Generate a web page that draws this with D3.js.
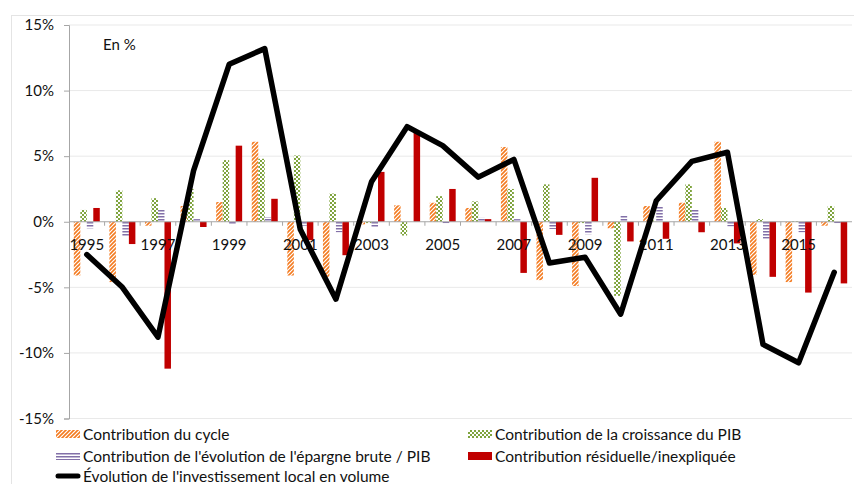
<!DOCTYPE html>
<html><head><meta charset="utf-8">
<script src="https://cdn.jsdelivr.net/npm/d3@7"></script>
<style>
html,body{margin:0;padding:0;background:#fff;}
svg{display:block;font-family:Lato,"Open Sans",sans-serif;}
</style></head>
<body><svg id="c" width="854" height="484"></svg>
<script>
const years = [1995,1996,1997,1998,1999,2000,2001,2002,2003,2004,2005,2006,2007,2008,2009,2010,2011,2012,2013,2014,2015,2016];
const yearLabels = ["1995","1997","1999","2001","2003","2005","2007","2009","2011","2013","2015"];
const cycle    = [-4.1,-4.6,-0.3, 1.2, 1.5, 6.1,-4.1,-4.2,-0.2, 1.25, 1.45, 1.05, 5.7,-4.45,-4.9,-0.5, 1.2, 1.45, 6.1,-4.05,-4.6,-0.3];
const pib      = [ 0.9, 2.4, 1.8, 2.5, 4.7, 4.8, 5.05, 2.15,-0.1,-1.05, 1.95, 1.55, 2.5, 2.85,-0.1,-5.65, 0.1, 2.85, 1.05, 0.2, 0.05, 1.2];
const epargne  = [-0.5,-1.1, 0.9, 0.2,-0.2, 0.35,-0.3,-0.8,-0.4, 0.05,-0.1, 0.3, 0.2,-0.55,-0.95, 0.45, 1.15, 0.9,-0.35,-1.3,-0.8,-0.1];
const residuel = [ 1.05,-1.7,-11.2,-0.4, 5.8, 1.75,-1.4,-2.55, 3.8, 6.8, 2.5, 0.2,-3.9,-1.0, 3.35,-1.5,-1.3,-0.8,-1.65,-4.2,-5.4,-4.7];
const investissement = [-2.5,-5.0,-8.8, 3.9,12.0,13.2,-0.6,-5.9, 3.05, 7.25, 5.8, 3.4, 4.75,-3.15,-2.7,-7.05, 1.6, 4.6, 5.3,-9.35,-10.75,-3.85];
const yTicks = [-15,-10,-5,0,5,10,15];
const seriesNames = ["Contribution du cycle","Contribution de la croissance du PIB","Contribution de l'évolution de l'épargne brute / PIB","Contribution résiduelle/inexpliquée","Évolution de l'investissement local en volume"];

const series = [
  {key:"cycle", values:cycle, fill:"url(#pOrange)"},
  {key:"pib", values:pib, fill:"url(#pGreen)"},
  {key:"epargne", values:epargne, fill:"url(#pPurple)"},
  {key:"residuel", values:residuel, fill:"#C00000"}
];

const svg = d3.select("#c");
const defs = svg.append("defs");
let p = defs.append("pattern").attr("id","pOrange").attr("patternUnits","userSpaceOnUse").attr("width",4).attr("height",4);
p.append("rect").attr("width",4).attr("height",4).attr("fill","#fff");
p.append("path").attr("d","M-1,1 l2,-2 M0,4 l4,-4 M3,5 l2,-2").attr("stroke","#F47B20").attr("stroke-width",1.6);
p = defs.append("pattern").attr("id","pGreen").attr("patternUnits","userSpaceOnUse").attr("width",4).attr("height",4);
p.append("rect").attr("width",4).attr("height",4).attr("fill","#fff");
p.append("rect").attr("x",0).attr("y",0).attr("width",2).attr("height",2).attr("fill","#7FA43E");
p.append("rect").attr("x",2).attr("y",2).attr("width",2).attr("height",2).attr("fill","#7FA43E");
p = defs.append("pattern").attr("id","pPurple").attr("patternUnits","userSpaceOnUse").attr("width",4).attr("height",3);
p.append("rect").attr("width",4).attr("height",3).attr("fill","#fff");
p.append("rect").attr("y",0).attr("width",4).attr("height",1.5).attr("fill","#8270A8");

svg.append("rect").attr("x",11.5).attr("y",15.5).attr("width",850).attr("height",480)
  .attr("fill","none").attr("stroke","#e4e4e4").attr("stroke-width",1);

const x0 = d3.scaleBand().domain(years).range([69,852]).paddingInner(0.27).paddingOuter(0.135);
const x1 = d3.scaleBand().domain(series.map(s=>s.key)).range([0,x0.bandwidth()]);
const y = d3.scaleLinear().domain([-15,15]).range([418.5,25]);

svg.append("g").selectAll("line").data(yTicks.filter(t=>t!==0)).join("line")
  .attr("x1",69).attr("x2",852).attr("y1",d=>y(d)).attr("y2",d=>y(d))
  .attr("stroke","#e9e9e9").attr("stroke-width",1);

const yAxis = d3.axisLeft(y).tickValues(yTicks).tickFormat(d=>d+"%").tickSize(5).tickPadding(10);
const gy = svg.append("g").attr("transform","translate(69,0)").call(yAxis);
gy.select(".domain").attr("stroke","#a6a6a6");
gy.selectAll(".tick line").attr("stroke","#a6a6a6");
gy.selectAll(".tick text").attr("font-size",15).attr("fill","#111").attr("font-family","Lato,sans-serif");

const gBars = svg.append("g");
series.forEach(s=>{
  gBars.append("g").selectAll("rect").data(years.map((yr,i)=>({yr, v:s.values[i]}))).join("rect")
    .attr("x",d=>x0(d.yr)+x1(s.key))
    .attr("width",x1.bandwidth())
    .attr("y",d=>y(Math.max(0,d.v)))
    .attr("height",d=>Math.abs(y(d.v)-y(0)))
    .attr("fill",s.fill);
});

const step = x0.step();
const xAxisG = svg.append("g");
xAxisG.append("line").attr("x1",69).attr("x2",852).attr("y1",y(0)).attr("y2",y(0)).attr("stroke","#a6a6a6");
const bounds = years.map(yr=>x0(yr) - (step - x0.bandwidth())/2).slice(1);
xAxisG.selectAll("line.t").data(bounds).join("line").attr("class","t")
  .attr("x1",d=>d).attr("x2",d=>d).attr("y1",y(0)).attr("y2",y(0)+4).attr("stroke","#a6a6a6");
xAxisG.selectAll("text").data(yearLabels).join("text")
  .attr("x",d=>x0(+d)+x0.bandwidth()/2).attr("y",y(0)+28)
  .attr("text-anchor","middle").attr("font-size",15).attr("fill","#111").text(d=>d);

const line = d3.line().x((d,i)=>x0(years[i])+x0.bandwidth()/2).y(d=>y(d));
svg.append("path").datum(investissement).attr("d",line)
  .attr("fill","none").attr("stroke","#000").attr("stroke-width",5.5).attr("stroke-linejoin","round").attr("stroke-linecap","round");

svg.append("text").attr("x",103).attr("y",50).attr("font-size",15).attr("fill","#111").text("En %");

const leg = [
  {name:seriesNames[0], type:"rect", fill:"url(#pOrange)", x:56, y:434},
  {name:seriesNames[1], type:"rect", fill:"url(#pGreen)", x:468, y:434},
  {name:seriesNames[2], type:"rect", fill:"url(#pPurple)", x:56, y:456},
  {name:seriesNames[3], type:"rect", fill:"#C00000", x:468, y:456},
  {name:seriesNames[4], type:"line", x:56, y:476}
];
const lg = svg.append("g");
leg.forEach(l=>{
  if(l.type==="rect"){
    lg.append("rect").attr("x",l.x).attr("y",l.y-4).attr("width",24).attr("height",8).attr("fill",l.fill);
  } else {
    lg.append("line").attr("x1",l.x+2).attr("x2",l.x+22).attr("y1",l.y).attr("y2",l.y).attr("stroke","#000").attr("stroke-width",5).attr("stroke-linecap","round");
  }
  lg.append("text").attr("x",l.x+27).attr("y",l.y+5.5).attr("font-size",15.5).attr("fill","#111").text(l.name);
});
</script></body></html>
